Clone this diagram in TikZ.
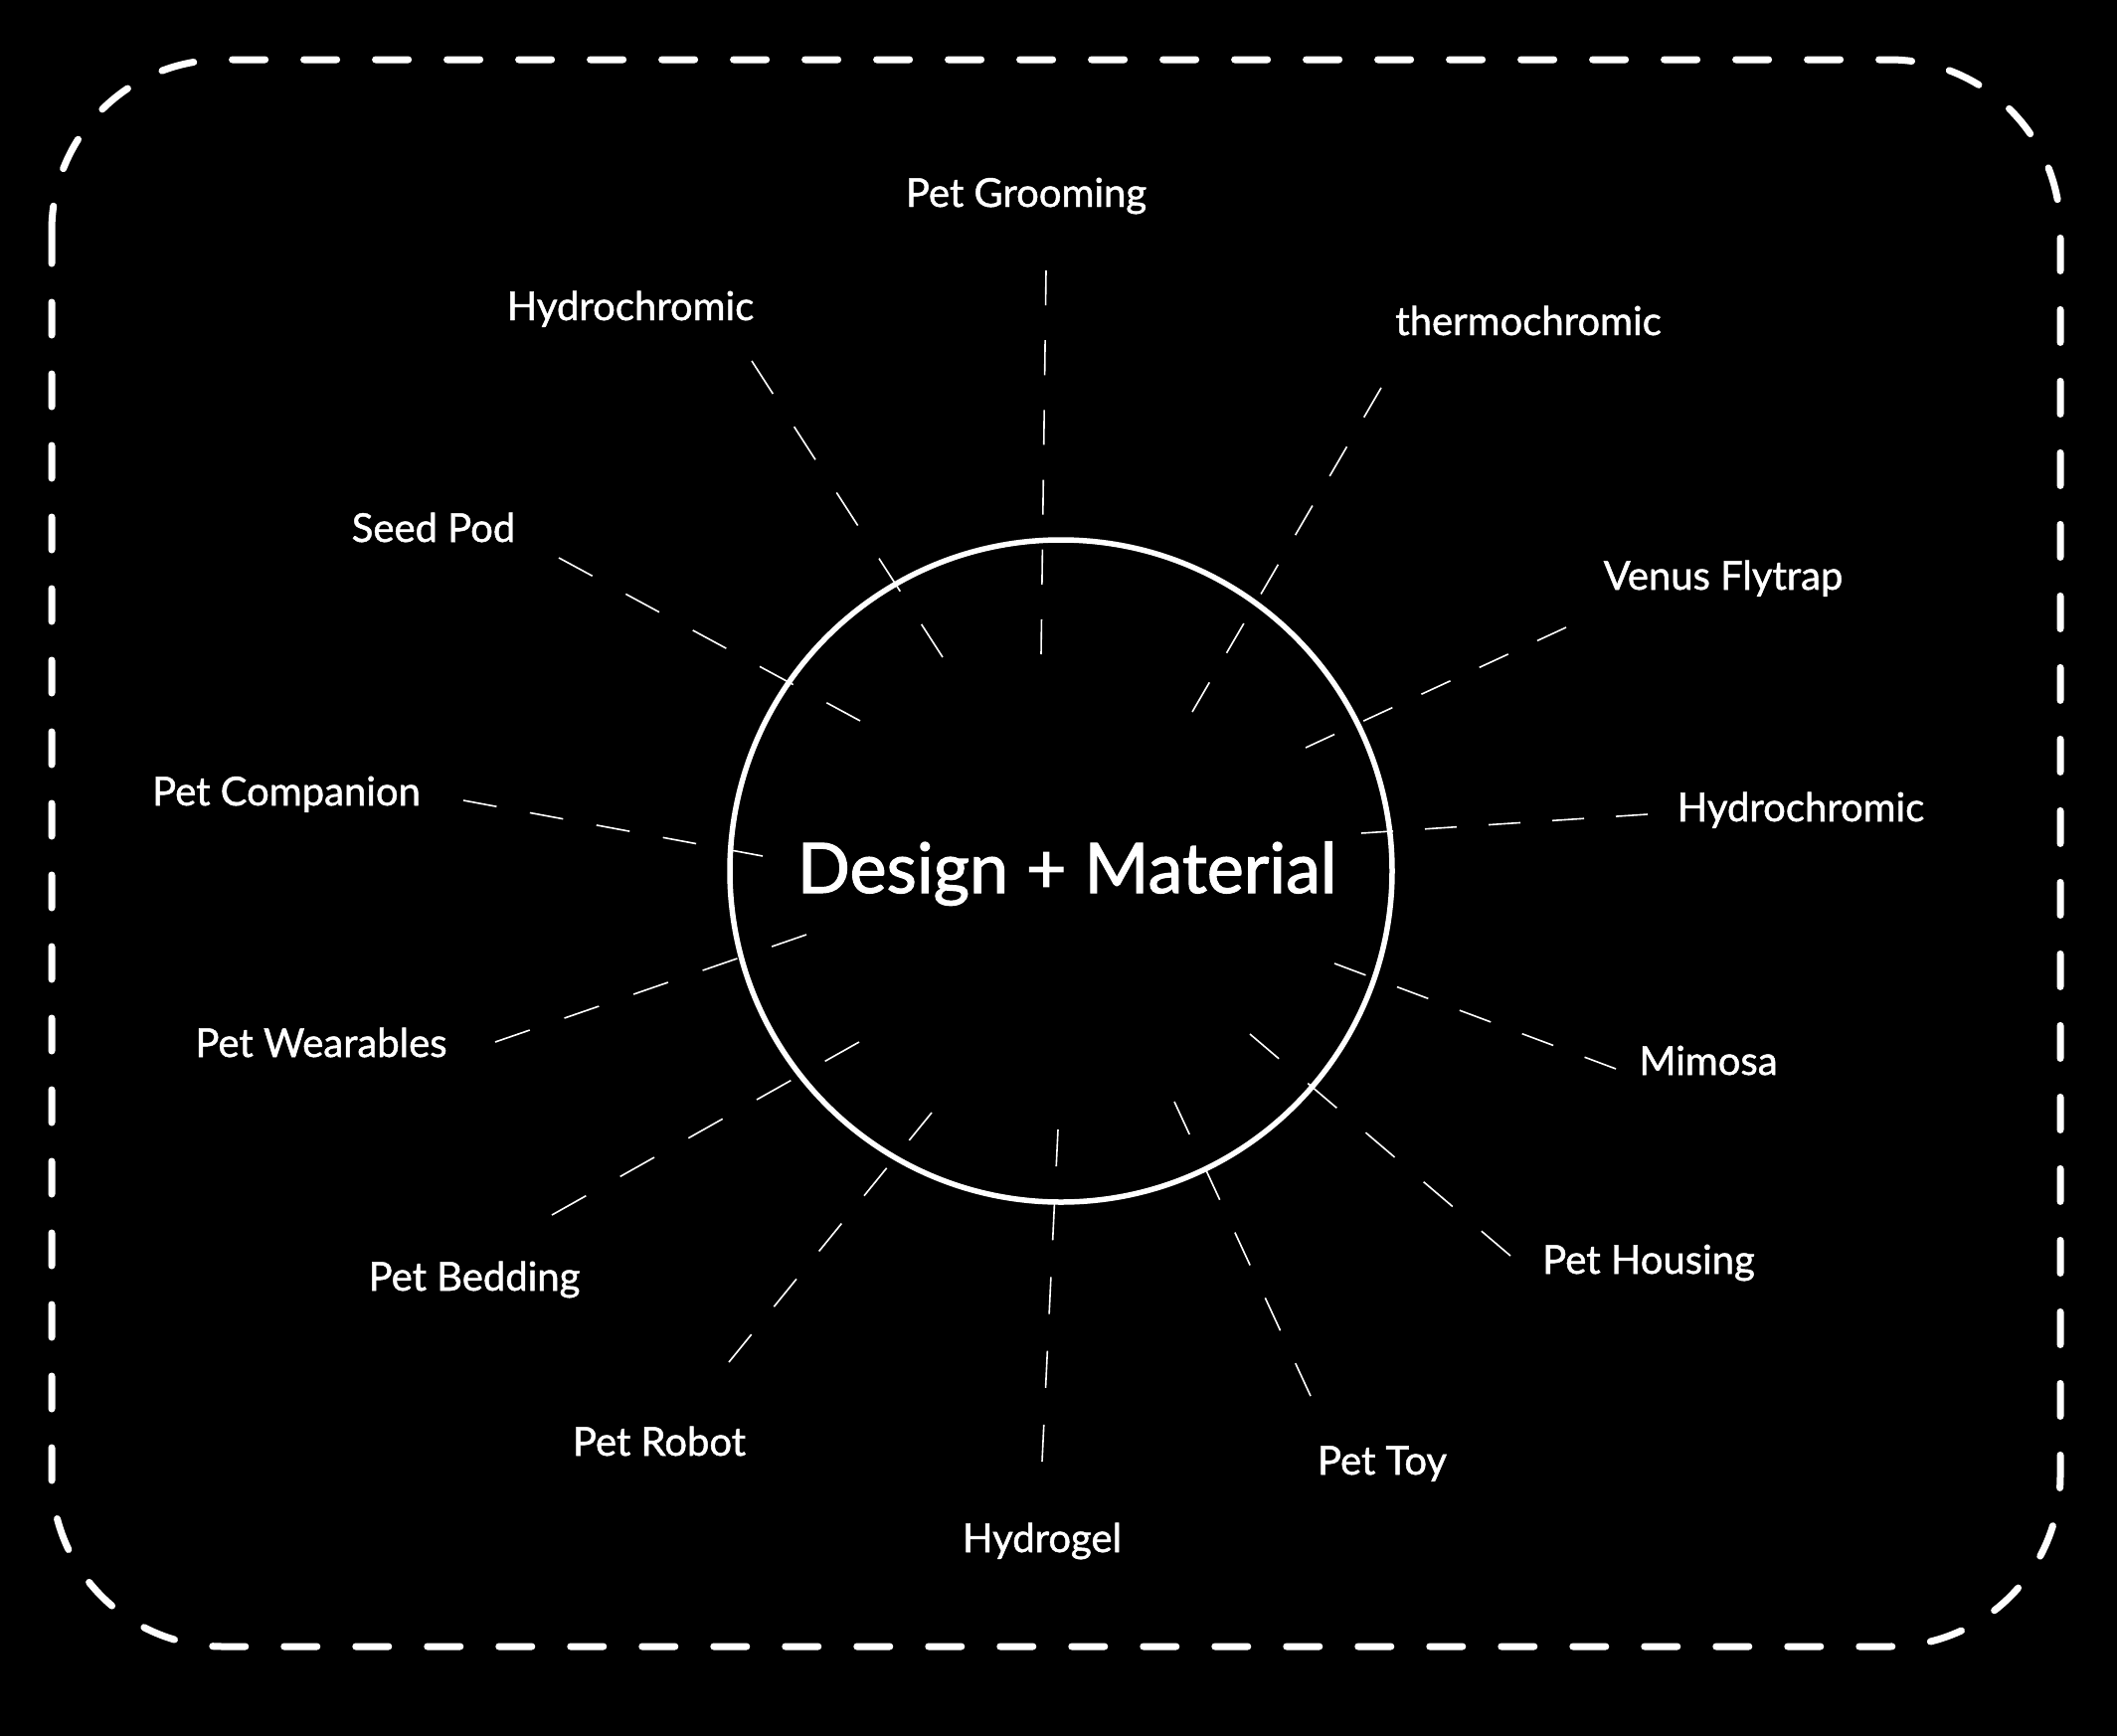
\documentclass[tikz,border=0pt]{standalone}
\usepackage{fontspec}
\setmainfont{Lato}
\newfontfamily\lblfont{Lato}[FakeBold=1.2]
\newfontfamily\titlefont{Lato}[FakeBold=1.6]
\begin{document}
\begin{tikzpicture}[x=1pt,y=-1pt,
  lbl/.style={text=white, font=\lblfont\fontsize{40}{46}\selectfont, anchor=base, inner sep=0pt},
  spoke/.style={draw=white, line width=1.6pt},
  border/.style={draw=white, line width=7pt, dash pattern=on 33pt off 39pt, line cap=round, rounded corners=172pt},
  hubstyle/.style={circle, draw=white, line width=5.5pt, minimum size=666pt, inner sep=0pt}]
\fill[black] (0,0) rectangle (2129,1746);
\useasboundingbox (0,0) rectangle (2129,1746);
\draw[border] (52,60) rectangle (2072,1656);
\node[hubstyle] (hub) at (1067,876) {};
\node[text=white, font=\titlefont\fontsize{70}{80}\selectfont, anchor=base, inner sep=0pt] (title) at (1073,898) {Design + Material};
% labels
\node[lbl] (l1) at (1032,208) {Pet Grooming};
\node[lbl] (l2) at (634,322) {Hydrochromic};
\node[lbl] (l3) at (1537,337) {thermochromic};
\node[lbl] (l4) at (436,545) {Seed Pod};
\node[lbl] (l5) at (1733,593) {Venus Flytrap};
\node[lbl] (l6) at (288,810) {Pet Companion};
\node[lbl] (l7) at (1811,826) {Hydrochromic};
\node[lbl] (l8) at (323,1063) {Pet Wearables};
\node[lbl] (l9) at (1718,1081) {Mimosa};
\node[lbl] (l10) at (477,1298) {Pet Bedding};
\node[lbl] (l11) at (1658,1281) {Pet Housing};
\node[lbl] (l12) at (663,1464) {Pet Robot};
\node[lbl] (l13) at (1390,1483) {Pet Toy};
\node[lbl] (l14) at (1048,1561) {Hydrogel};
% spoke ends
\coordinate (o1) at (1052,272);  \coordinate (i1) at (1047,658);
\coordinate (o2) at (756,363);   \coordinate (i2) at (948,661);
\coordinate (o3) at (1389,390);  \coordinate (i3) at (1199,716);
\coordinate (o4) at (562,561);   \coordinate (i4) at (865,725);
\coordinate (o5) at (1575,631);  \coordinate (i5) at (1313,752);
\coordinate (o6) at (466,805);   \coordinate (i6) at (767,861);
\coordinate (o7) at (1657,819);  \coordinate (i7) at (1369,838);
\coordinate (o8) at (498,1048);  \coordinate (i8) at (811,940);
\coordinate (o9) at (1625,1075); \coordinate (i9) at (1342,969);
\coordinate (o10) at (555,1222); \coordinate (i10) at (864,1048);
\coordinate (o11) at (1519,1263);\coordinate (i11) at (1257,1040);
\coordinate (o12) at (733,1370); \coordinate (i12) at (937,1119);
\coordinate (o13) at (1318,1404);\coordinate (i13) at (1181,1108);
\coordinate (o14) at (1048,1470);\coordinate (i14) at (1064,1136);
\foreach \k in {1,...,14} {
  \pgfpointdiff{\pgfpointanchor{o\k}{center}}{\pgfpointanchor{i\k}{center}}
  \pgfgetlastxy{\dx}{\dy}
  \pgfmathsetmacro\len{veclen(\dx,\dy)}
  \pgfmathsetmacro\seg{\len/(2*round((\len/36-1)/2)+1)}
  \draw[spoke, dash pattern=on \seg pt off \seg pt] (o\k) -- (i\k);
}
\end{tikzpicture}
\end{document}
